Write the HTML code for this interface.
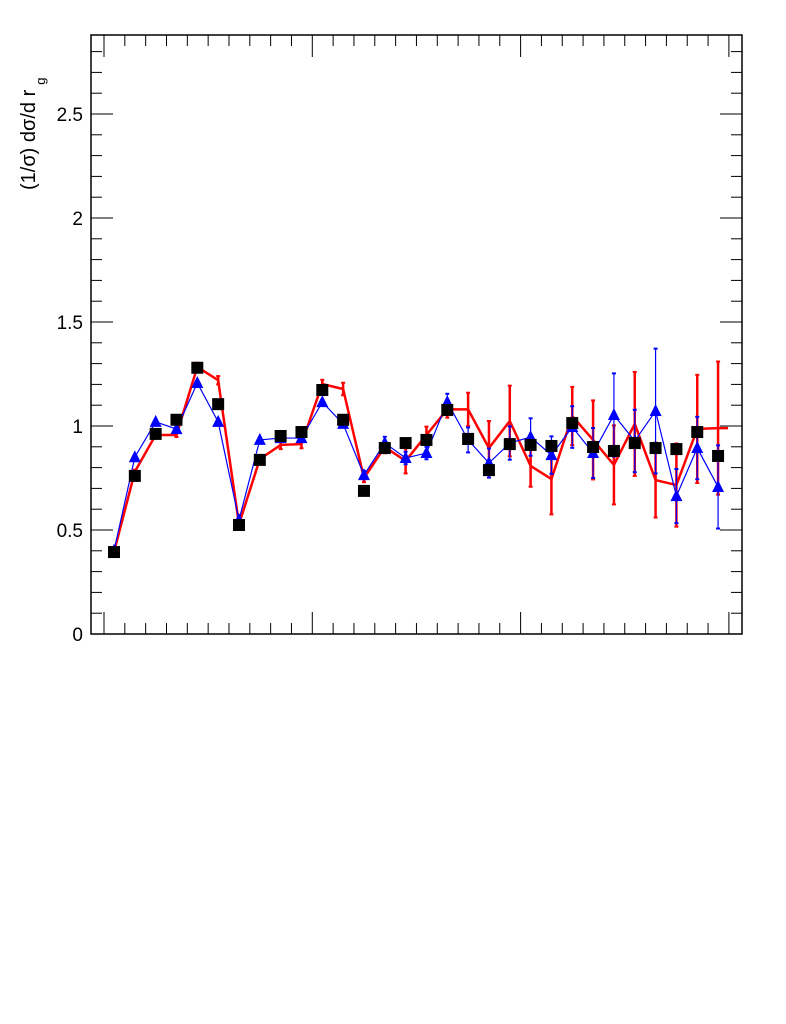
<!DOCTYPE html>
<html><head><meta charset="utf-8"><style>body{margin:0;background:#fff}svg{display:block}text{font-family:"Liberation Sans",sans-serif}</style></head>
<body>
<svg id="chart" width="786" height="1024" xmlns="http://www.w3.org/2000/svg">
<g id="axes"></g>
<g id="marks"></g>
<text transform="translate(35,190) rotate(-90)" font-size="20">(1/σ) dσ/d r<tspan dy="10" font-size="13" dx="5">g</tspan></text>
</svg>
<script>
const yTicks=[0,0.5,1,1.5,2,2.5];
const tickLabels=["0","0.5","1","1.5","2","2.5"];
const dataVals=[0.394,0.76,0.962,1.03,1.28,1.105,0.524,0.837,0.952,0.971,1.173,1.03,0.688,0.894,0.918,0.933,1.077,0.938,0.788,0.913,0.909,0.904,1.014,0.899,0.88,0.918,0.894,0.889,0.971,0.856];
const blueVals=[0.40,0.85,1.02,0.985,1.207,1.02,0.548,0.933,0.942,0.942,1.115,1.01,0.764,0.918,0.846,0.87,1.115,0.933,0.822,0.918,0.947,0.86,0.995,0.87,1.053,0.928,1.072,0.663,0.894,0.707];
const blueErr=[0.01,0.01,0.01,0.01,0.01,0.01,0.01,0.01,0.01,0.01,0.01,0.01,0.02,0.03,0.03,0.03,0.04,0.06,0.07,0.08,0.09,0.09,0.1,0.12,0.2,0.15,0.3,0.13,0.15,0.2];
const redVals=[0.394,0.78,0.957,0.957,1.284,1.22,0.528,0.841,0.909,0.913,1.202,1.178,0.75,0.899,0.832,0.957,1.08,1.08,0.894,1.024,0.808,0.745,1.048,0.933,0.813,1.01,0.74,0.716,0.986,0.99];
const redErr=[0.01,0.01,0.01,0.01,0.02,0.02,0.02,0.02,0.02,0.02,0.02,0.03,0.02,0.03,0.06,0.04,0.04,0.08,0.13,0.17,0.1,0.17,0.14,0.19,0.19,0.25,0.18,0.2,0.26,0.32];
const L=91,R=742,T=35,B=634;
const y=v=>B-v*208;
const x=i=>114+i*20.83;
const NS="http://www.w3.org/2000/svg";
function mk(p,tag,a){const e=document.createElementNS(NS,tag);for(const k in a)e.setAttribute(k,a[k]);p.appendChild(e);return e;}
const ax=document.getElementById('axes'),mg=document.getElementById('marks');
let f=mk(ax,'rect',{x:L,y:T,width:R-L,height:B-T,fill:'none',stroke:'#000','stroke-width':1.5});

for(let k=0;k*0.1<=2.85;k++){const v=k*0.1,maj=k%5===0,len=maj?22:11;
 mk(ax,'line',{x1:L,x2:L+len,y1:y(v),y2:y(v),stroke:'#000'});
 mk(ax,'line',{x1:R,x2:R-len,y1:y(v),y2:y(v),stroke:'#000'});}
yTicks.forEach((v,i)=>{const t=mk(ax,'text',{x:83,y:y(v)+7,'text-anchor':'end','font-size':19});t.textContent=tickLabels[i];
 });
for(let k=0;;k++){const px=104+k*20.83;if(px>R)break;const len=k%10===0?22:11;
 mk(ax,'line',{x1:px,x2:px,y1:B,y2:B-len,stroke:'#000'});
 mk(ax,'line',{x1:px,x2:px,y1:T,y2:T+len,stroke:'#000'});}
function series(vals,err,col,w,name){
 const g=mk(mg,'g',{});
 let pts=vals.map((v,i)=>x(i)+','+y(v));
 if(name==='red-series')pts.push((x(vals.length-1)+10)+','+y(vals[vals.length-1]));
 mk(g,'polyline',{points:pts.join(' '),fill:'none',stroke:col,'stroke-width':w});
 vals.forEach((v,i)=>{const e=err[i];
  mk(g,'line',{x1:x(i),x2:x(i),y1:y(v-e),y2:y(v+e),stroke:col,'stroke-width':w});
  mk(g,'line',{x1:x(i)-2,x2:x(i)+2,y1:y(v-e),y2:y(v-e),stroke:col,'stroke-width':2});
  mk(g,'line',{x1:x(i)-2,x2:x(i)+2,y1:y(v+e),y2:y(v+e),stroke:col,'stroke-width':2});});
 return g;}
series(redVals,redErr,'#ff0000',2.5,'red-series');
const bg=series(blueVals,blueErr,'#0000ff',1.2,'blue-series');
blueVals.forEach((v,i)=>{const p=mk(bg,'polygon',{points:`${x(i)},${y(v)-7} ${x(i)-6},${y(v)+5} ${x(i)+6},${y(v)+5}`,fill:'#0000ff'});
 });
const dg=mk(mg,'g',{});
dataVals.forEach((v,i)=>{const r=mk(dg,'rect',{x:x(i)-6,y:y(v)-6,width:12,height:12,fill:'#000'});
 });
</script>
</body></html>
